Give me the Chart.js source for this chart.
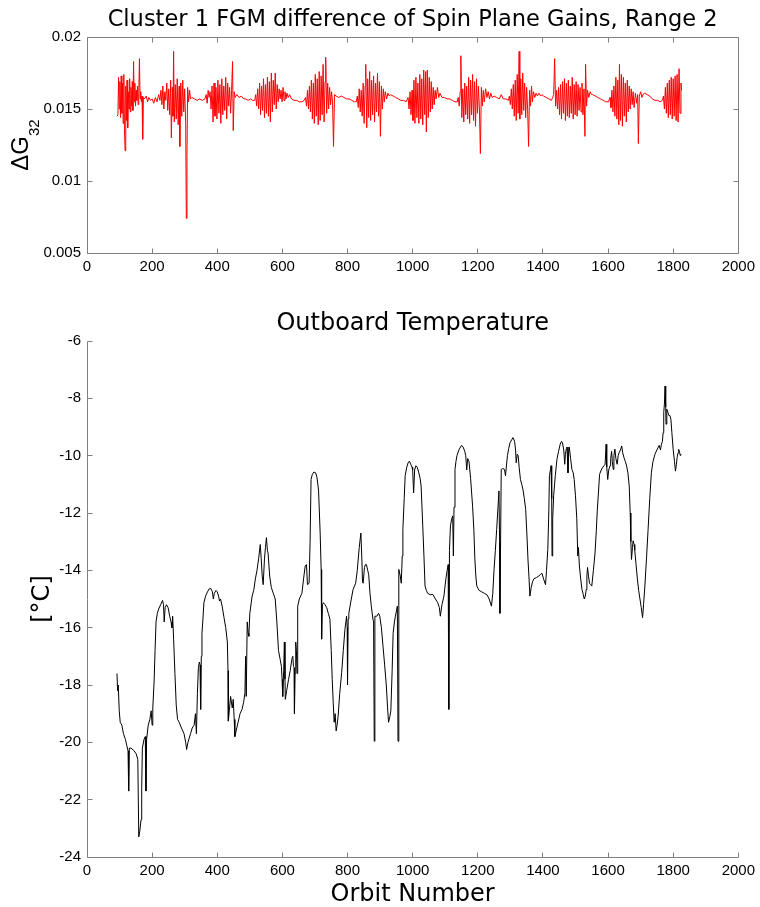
<!DOCTYPE html>
<html>
<head>
<meta charset="utf-8">
<script src="https://cdn.jsdelivr.net/npm/chart.js@4.4.1/dist/chart.umd.min.js"></script>
<style>
  html, body { margin: 0; padding: 0; background: #fff; }
  #wrap { position: relative; width: 760px; height: 907px; }
  canvas { position: absolute; left: 0; }
  #gainChart { top: 0; }
  #tempChart { top: 290px; }
</style>
</head>
<body>
<div id="wrap">
  <canvas id="gainChart" width="760" height="290"></canvas>
  <canvas id="tempChart" width="760" height="617"></canvas>
</div>
<script>
// Tick values
const orbitTicks = [0, 200, 400, 600, 800, 1000, 1200, 1400, 1600, 1800, 2000];
const gainTicks = [0.005, 0.01, 0.015, 0.02];
const tempTicks = [-24, -22, -20, -18, -16, -14, -12, -10, -8, -6];

// Spin plane gain difference, [orbit, dG32]
const gainData = [
  [92, 0.0145], [95, 0.0146], [97, 0.0172], [99, 0.0150], [101, 0.0169], [103, 0.0144], [105, 0.0173], [107, 0.0147],
  [109, 0.0168], [111, 0.0140], [113, 0.0174], [115, 0.0136], [117, 0.0121], [119, 0.0166], [121, 0.0142], [123, 0.0170],
  [125, 0.0137], [127, 0.0162], [129, 0.0150], [131, 0.0171], [133, 0.0148], [135, 0.0165], [137, 0.0152], [139, 0.0169],
  [141, 0.0149], [143, 0.0183], [145, 0.0155], [147, 0.0168], [149, 0.0152], [151, 0.0163], [153, 0.0156], [155, 0.0166],
  [157, 0.0153], [159, 0.0161], [161, 0.0185], [163, 0.0157], [165, 0.0162], [167, 0.0155], [169, 0.0159], [171, 0.0129],
  [173, 0.0158], [176, 0.0157], [182, 0.0159], [186, 0.0155], [190, 0.0158], [195, 0.0156], [200, 0.0157], [205, 0.0154],
  [210, 0.0158], [215, 0.0155], [220, 0.0160], [224, 0.0156],
  [227, 0.0163], [230, 0.0153], [233, 0.0166], [236, 0.0150], [239, 0.0162], [242, 0.0156], [245, 0.0168], [248, 0.0149],
  [251, 0.0164], [254, 0.0146], [257, 0.0170], [259, 0.0130], [262, 0.0165], [264, 0.0145], [266, 0.0190], [268, 0.0141],
  [271, 0.0167], [274, 0.0143], [277, 0.0171], [280, 0.0139], [283, 0.0166], [285, 0.0124], [288, 0.0168], [291, 0.0145],
  [294, 0.0170], [297, 0.0148], [300, 0.0164], [303, 0.0140], [305, 0.0074], [307, 0.0117], [309, 0.0165], [312, 0.0155],
  [315, 0.0163], [318, 0.0157], [322, 0.0158], [330, 0.0157], [338, 0.0156], [346, 0.0157], [354, 0.0156], [362, 0.0157],
  [366, 0.0160], [369, 0.0154], [372, 0.0163], [375, 0.0158], [378, 0.0162], [381, 0.0150], [384, 0.0166], [387, 0.0141],
  [390, 0.0168], [393, 0.0145], [396, 0.0165], [399, 0.0143], [402, 0.0170], [405, 0.0147], [408, 0.0167], [411, 0.0140],
  [414, 0.0171], [417, 0.0146], [420, 0.0166], [423, 0.0149], [426, 0.0172], [429, 0.0143], [432, 0.0168], [435, 0.0152],
  [438, 0.0165], [441, 0.0147], [444, 0.0163], [447, 0.0183], [449, 0.0135], [452, 0.0162], [455, 0.0158],
  [460, 0.0160], [467, 0.0158], [474, 0.0159], [481, 0.0157], [488, 0.0157], [495, 0.0156], [502, 0.0157], [509, 0.0156],
  [515, 0.0156], [518, 0.0160], [521, 0.0152], [524, 0.0164], [527, 0.0150], [530, 0.0168], [533, 0.0146], [536, 0.0166],
  [539, 0.0149], [542, 0.0171], [545, 0.0144], [548, 0.0167], [551, 0.0147], [554, 0.0172], [557, 0.0145], [560, 0.0169],
  [563, 0.0141], [566, 0.0175], [569, 0.0148], [572, 0.0170], [575, 0.0153], [578, 0.0175], [581, 0.0150], [584, 0.0167],
  [587, 0.0155], [590, 0.0164], [593, 0.0157], [596, 0.0163], [599, 0.0155], [602, 0.0165], [605, 0.0156], [608, 0.0162],
  [611, 0.0157], [614, 0.0161], [618, 0.0158], [622, 0.0160], [628, 0.0157], [636, 0.0156], [644, 0.0156], [652, 0.0155],
  [660, 0.0155], [667, 0.0156],
  [671, 0.0158], [674, 0.0152], [677, 0.0163], [680, 0.0150], [683, 0.0166], [686, 0.0148], [689, 0.0170], [692, 0.0143],
  [695, 0.0168], [698, 0.0140], [701, 0.0174], [704, 0.0145], [707, 0.0171], [710, 0.0139], [713, 0.0176], [716, 0.0142],
  [719, 0.0173], [722, 0.0146], [725, 0.0181], [728, 0.0141], [731, 0.0169], [733, 0.0186], [736, 0.0147], [739, 0.0168],
  [742, 0.0150], [745, 0.0165], [748, 0.0153], [751, 0.0162], [754, 0.0155], [757, 0.0124], [760, 0.0160],
  [765, 0.0159], [773, 0.0158], [781, 0.0159], [789, 0.0158], [797, 0.0157], [805, 0.0157], [813, 0.0156], [821, 0.0155],
  [827, 0.0155], [830, 0.0159], [833, 0.0151], [836, 0.0164], [839, 0.0148], [842, 0.0163], [845, 0.0145], [848, 0.0168],
  [851, 0.0140], [854, 0.0166], [856, 0.0181], [859, 0.0137], [862, 0.0171], [865, 0.0144], [868, 0.0176], [871, 0.0142],
  [874, 0.0170], [877, 0.0146], [880, 0.0173], [883, 0.0141], [886, 0.0168], [889, 0.0148], [892, 0.0175], [895, 0.0145],
  [898, 0.0169], [901, 0.0131], [904, 0.0166], [907, 0.0150], [910, 0.0164], [913, 0.0155], [916, 0.0162], [920, 0.0157],
  [924, 0.0161], [928, 0.0159], [932, 0.0160], [940, 0.0159], [948, 0.0158], [956, 0.0157], [964, 0.0156], [972, 0.0156],
  [980, 0.0155],
  [986, 0.0158], [989, 0.0150], [992, 0.0162], [995, 0.0146], [998, 0.0163], [1001, 0.0142], [1004, 0.0170], [1007, 0.0140],
  [1010, 0.0172], [1013, 0.0144], [1016, 0.0168], [1019, 0.0140], [1022, 0.0174], [1025, 0.0143], [1028, 0.0171], [1031, 0.0139],
  [1034, 0.0177], [1037, 0.0146], [1040, 0.0176], [1042, 0.0134], [1045, 0.0177], [1048, 0.0144], [1051, 0.0172], [1054, 0.0148],
  [1057, 0.0169], [1060, 0.0150], [1063, 0.0165], [1066, 0.0153], [1069, 0.0163], [1072, 0.0157], [1076, 0.0165], [1080, 0.0158],
  [1084, 0.0161], [1090, 0.0158], [1098, 0.0158], [1106, 0.0157], [1114, 0.0157], [1122, 0.0156], [1130, 0.0155], [1137, 0.0155],
  [1140, 0.0158], [1143, 0.0152], [1146, 0.0162], [1148, 0.0187], [1151, 0.0144], [1154, 0.0164], [1157, 0.0141], [1160, 0.0168],
  [1163, 0.0146], [1166, 0.0166], [1169, 0.0143], [1172, 0.0172], [1175, 0.0140], [1178, 0.0170], [1181, 0.0146], [1184, 0.0174],
  [1187, 0.0142], [1190, 0.0169], [1193, 0.0138], [1196, 0.0171], [1199, 0.0147], [1202, 0.0166], [1205, 0.0150], [1208, 0.0119],
  [1211, 0.0165], [1214, 0.0152], [1217, 0.0163], [1220, 0.0155], [1224, 0.0164], [1228, 0.0158], [1232, 0.0162], [1236, 0.0157],
  [1240, 0.0161], [1244, 0.0158], [1250, 0.0159], [1258, 0.0158], [1266, 0.0157], [1272, 0.0160], [1278, 0.0157], [1286, 0.0157],
  [1294, 0.0156],
  [1297, 0.0159], [1300, 0.0153], [1303, 0.0164], [1306, 0.0150], [1309, 0.0167], [1312, 0.0145], [1315, 0.0170], [1318, 0.0142],
  [1321, 0.0174], [1324, 0.0147], [1327, 0.0190], [1329, 0.0143], [1332, 0.0171], [1335, 0.0146], [1338, 0.0175], [1341, 0.0149],
  [1344, 0.0168], [1347, 0.0144], [1350, 0.0165], [1353, 0.0150], [1356, 0.0124], [1359, 0.0163], [1362, 0.0152], [1365, 0.0166],
  [1368, 0.0155], [1371, 0.0162], [1375, 0.0158], [1379, 0.0161], [1383, 0.0159], [1388, 0.0161], [1393, 0.0159], [1397, 0.0160],
  [1402, 0.0159], [1410, 0.0158], [1418, 0.0157], [1426, 0.0156],
  [1430, 0.0158], [1433, 0.0160], [1436, 0.0185], [1439, 0.0152], [1442, 0.0163], [1445, 0.0150], [1448, 0.0165], [1451, 0.0146],
  [1454, 0.0167], [1457, 0.0143], [1460, 0.0169], [1463, 0.0147], [1466, 0.0171], [1469, 0.0142], [1472, 0.0168], [1475, 0.0145],
  [1478, 0.0170], [1481, 0.0144], [1484, 0.0166], [1487, 0.0147], [1490, 0.0172], [1493, 0.0143], [1496, 0.0167], [1499, 0.0146],
  [1502, 0.0169], [1505, 0.0145], [1508, 0.0167], [1511, 0.0149], [1514, 0.0165], [1517, 0.0148], [1520, 0.0168], [1523, 0.0146],
  [1526, 0.0164], [1529, 0.0131], [1531, 0.0181], [1534, 0.0152], [1537, 0.0163], [1541, 0.0158], [1545, 0.0162], [1549, 0.0160],
  [1553, 0.0160], [1561, 0.0159], [1569, 0.0158], [1577, 0.0157], [1585, 0.0156], [1593, 0.0155], [1601, 0.0155],
  [1606, 0.0158], [1609, 0.0151], [1612, 0.0163], [1615, 0.0148], [1618, 0.0166], [1621, 0.0145], [1624, 0.0172], [1627, 0.0143],
  [1630, 0.0170], [1633, 0.0139], [1635, 0.0181], [1638, 0.0142], [1641, 0.0174], [1644, 0.0138], [1647, 0.0172], [1650, 0.0145],
  [1653, 0.0168], [1656, 0.0141], [1659, 0.0170], [1662, 0.0148], [1665, 0.0166], [1668, 0.0150], [1671, 0.0164], [1674, 0.0153],
  [1677, 0.0162], [1680, 0.0151], [1684, 0.0161], [1688, 0.0154], [1691, 0.0160], [1693, 0.0126], [1696, 0.0159], [1700, 0.0162],
  [1704, 0.0158], [1707, 0.0160], [1712, 0.0161], [1720, 0.0160], [1728, 0.0159], [1736, 0.0157], [1744, 0.0156], [1752, 0.0156],
  [1760, 0.0155], [1767, 0.0156],
  [1770, 0.0159], [1773, 0.0150], [1776, 0.0165], [1779, 0.0147], [1782, 0.0168], [1785, 0.0144], [1788, 0.0170], [1791, 0.0146],
  [1794, 0.0172], [1797, 0.0143], [1800, 0.0171], [1803, 0.0145], [1806, 0.0173], [1809, 0.0142], [1812, 0.0174], [1815, 0.0141],
  [1818, 0.0178], [1821, 0.0147], [1824, 0.0168], [1826, 0.0163]
];

// Outboard temperature, [orbit, degC]
const tempData = [
  [92, -17.6], [94, -18.2], [96, -18.0], [99, -18.9], [102, -19.3], [107, -19.4], [112, -19.7], [118, -19.9],
  [122, -20.1], [126, -20.3], [128, -21.7], [130, -20.2], [135, -20.2], [145, -20.3], [151, -20.4], [156, -20.6],
  [159, -23.3], [162, -23.1], [166, -22.7], [168, -21.6], [170, -20.2], [175, -19.9], [179, -19.8], [181, -21.7],
  [183, -19.9], [188, -19.4], [193, -19.2], [197, -18.9], [200, -19.4], [202, -18.8], [206, -17.9], [209, -16.8],
  [212, -15.8], [216, -15.5], [220, -15.35], [226, -15.2], [232, -15.05], [235, -15.2], [237, -15.8], [240, -15.3],
  [244, -15.2], [249, -15.3], [254, -15.6], [258, -15.8], [261, -16.0], [263, -15.6], [266, -16.4], [270, -17.6],
  [274, -18.7], [278, -19.2], [283, -19.3], [290, -19.5], [298, -19.7], [303, -20.0], [306, -20.25], [310, -20.0],
  [318, -19.7], [323, -19.5], [329, -19.4], [333, -19.0], [336, -19.7], [339, -18.3], [342, -17.4], [345, -17.2],
  [347, -17.3], [349, -18.85], [351, -17.0], [353, -16.2], [356, -15.7], [359, -15.13], [364, -14.9], [370, -14.75],
  [375, -14.65], [380, -14.63], [385, -14.75], [388, -15.0], [391, -14.8], [396, -14.7], [400, -14.75], [404, -14.9],
  [407, -15.07], [410, -15.0], [415, -15.25], [420, -15.6], [426, -16.0], [431, -16.5], [433, -17.5], [434, -19.26],
  [437, -18.9], [441, -18.4], [446, -18.8], [449, -18.5], [452, -19.2], [454, -19.8], [458, -19.6], [464, -19.3],
  [470, -19.0], [476, -18.85], [481, -18.6], [485, -18.27], [487, -17.0], [489, -18.4], [492, -15.8], [495, -16.2],
  [497, -16.3], [500, -15.5], [507, -14.9], [512, -14.7], [517, -14.3], [522, -14.0], [527, -13.6], [532, -13.1],
  [535, -13.6], [538, -14.2], [541, -14.5], [545, -13.6], [548, -13.2], [551, -12.86], [554, -13.3], [556, -13.4],
  [561, -14.2], [566, -14.6], [572, -14.8], [578, -15.0], [583, -15.8], [588, -16.8], [593, -17.1], [597, -17.35],
  [599, -17.8], [601, -18.4], [604, -17.5], [606, -16.5], [608, -17.8], [609, -18.5], [613, -18.2], [619, -17.8],
  [624, -17.5], [629, -17.1], [632, -17.0], [634, -17.35], [636, -17.4], [637, -19.0], [639, -17.6], [641, -16.5],
  [643, -16.8], [645, -17.6], [647, -15.25], [652, -15.0], [660, -14.8], [665, -14.3], [670, -13.85], [674, -13.8],
  [677, -14.5], [682, -14.45], [685, -13.04], [688, -10.83], [692, -10.65], [697, -10.57], [702, -10.6], [706, -10.75],
  [711, -11.2], [716, -12.7], [719, -13.97], [720, -15.2], [721, -16.4], [723, -15.2], [726, -15.13], [731, -15.2],
  [736, -15.3], [741, -15.5], [746, -15.7], [750, -16.8], [753, -17.8], [756, -18.6], [759, -19.3], [762, -19.0],
  [765, -19.6], [768, -19.4], [771, -19.1], [776, -18.3], [782, -17.57], [787, -16.8], [792, -16.06], [795, -15.8],
  [797, -15.6], [799, -16.0], [800, -18.0], [802, -15.7], [804, -15.5], [810, -15.1], [817, -14.67], [825, -14.45],
  [830, -14.0], [836, -13.2], [841, -12.7], [844, -13.6], [846, -14.4], [848, -14.45], [852, -13.9], [855, -13.8],
  [858, -13.8], [862, -14.0], [865, -14.15], [869, -14.8], [873, -15.25], [878, -15.7], [880, -15.8], [882, -19.96],
  [884, -15.6], [890, -15.6], [895, -15.5], [899, -15.6], [904, -16.0], [909, -16.65], [914, -17.3], [919, -18.0],
  [923, -18.8], [926, -19.3], [930, -19.1], [933, -18.9], [937, -17.5], [940, -16.2], [944, -15.8], [947, -15.6],
  [953, -15.25], [955, -19.96], [957, -15.5], [958, -13.97], [962, -14.2], [965, -14.45], [968, -13.5], [970, -12.57],
  [974, -11.5], [977, -10.7], [982, -10.4], [986, -10.25], [990, -10.19], [994, -10.3], [998, -10.4], [1000, -10.5],
  [1003, -11.3], [1006, -10.5], [1010, -10.35], [1014, -10.4], [1019, -10.6], [1023, -10.8], [1026, -11.06], [1031, -12.45],
  [1035, -13.6], [1038, -14.55], [1042, -14.7], [1046, -14.8], [1054, -14.85], [1062, -14.84], [1070, -15.0], [1077, -15.13],
  [1082, -15.3], [1085, -15.6], [1090, -15.2], [1096, -14.9], [1102, -14.3], [1106, -14.0], [1109, -13.8], [1111, -18.85],
  [1113, -13.3], [1116, -12.45], [1120, -12.2], [1123, -12.1], [1125, -13.5], [1127, -11.8], [1130, -10.48], [1133, -10.2],
  [1136, -10.0], [1142, -9.8], [1150, -9.64], [1155, -9.7], [1160, -9.85], [1163, -10.0], [1166, -10.5], [1169, -10.1],
  [1173, -10.2], [1178, -10.8], [1184, -11.76], [1188, -12.6], [1191, -13.6], [1194, -14.2], [1197, -14.55], [1204, -14.7],
  [1212, -14.75], [1220, -14.8], [1228, -14.85], [1235, -15.0], [1242, -15.25], [1246, -14.8], [1250, -13.97], [1254, -13.3],
  [1258, -12.57], [1262, -11.8], [1265, -11.23], [1267, -13.0], [1268, -15.5], [1270, -13.04], [1272, -10.48], [1277, -10.45],
  [1282, -10.48], [1285, -10.7], [1291, -10.0], [1295, -9.75], [1299, -9.55], [1304, -9.45], [1308, -9.37], [1313, -9.5],
  [1316, -9.8], [1318, -10.25], [1321, -9.95], [1324, -10.0], [1327, -10.4], [1331, -10.83], [1335, -11.0], [1339, -11.2],
  [1343, -11.5], [1347, -11.87], [1351, -12.8], [1354, -13.6], [1357, -14.2], [1360, -14.9], [1364, -14.6], [1368, -14.4],
  [1372, -14.3], [1380, -14.25], [1387, -14.2], [1392, -14.15], [1397, -14.1], [1402, -14.3], [1408, -14.5], [1411, -14.0],
  [1415, -13.27], [1418, -12.0], [1420, -10.7], [1423, -10.5], [1425, -10.35], [1427, -11.5], [1428, -13.5], [1430, -12.2],
  [1433, -11.4], [1438, -10.7], [1443, -10.13], [1448, -9.85], [1453, -9.6], [1457, -9.5], [1460, -9.55], [1464, -9.8],
  [1467, -10.3], [1469, -9.95], [1472, -9.75], [1474, -9.7], [1477, -10.6], [1479, -9.9], [1481, -9.7], [1485, -10.1],
  [1489, -10.48], [1493, -10.6], [1496, -10.83], [1500, -11.4], [1504, -12.2], [1507, -13.5], [1509, -13.2], [1512, -13.85],
  [1516, -14.3], [1520, -14.67], [1524, -14.85], [1527, -15.0], [1530, -14.9], [1533, -14.67], [1535, -14.2], [1537, -13.9],
  [1540, -14.2], [1543, -14.45], [1547, -14.5], [1550, -14.55], [1555, -14.0], [1560, -13.4], [1564, -12.6], [1567, -11.9],
  [1571, -11.2], [1574, -10.65], [1579, -10.5], [1584, -10.4], [1588, -10.35], [1591, -10.3], [1594, -9.6], [1596, -10.4],
  [1599, -10.83], [1602, -10.5], [1606, -10.35], [1608, -10.1], [1611, -9.85], [1613, -10.2], [1616, -10.48], [1618, -10.0],
  [1621, -9.77], [1624, -10.1], [1628, -10.3], [1631, -10.0], [1634, -9.9], [1638, -9.8], [1642, -9.66], [1645, -9.9],
  [1649, -10.07], [1653, -10.2], [1657, -10.36], [1661, -10.6], [1665, -11.06], [1668, -12.0], [1670, -13.0], [1672, -13.62],
  [1675, -13.2], [1677, -12.97], [1680, -13.1], [1682, -13.3], [1686, -13.8], [1690, -14.3], [1694, -14.7], [1698, -15.0],
  [1702, -15.3], [1706, -15.65], [1709, -15.2], [1713, -14.55], [1718, -13.6], [1723, -12.57], [1728, -11.5], [1733, -10.6],
  [1738, -10.2], [1744, -9.95], [1750, -9.8], [1757, -9.64], [1761, -9.8], [1764, -9.6], [1767, -9.5], [1769, -9.2],
  [1771, -8.5], [1773, -8.2], [1775, -7.57], [1777, -8.3], [1778, -8.9], [1780, -8.5], [1781, -8.38], [1784, -8.5],
  [1787, -8.6], [1790, -8.6], [1793, -8.73], [1796, -9.2], [1800, -9.78], [1804, -10.2], [1807, -10.54], [1810, -10.3],
  [1812, -10.07], [1815, -9.9], [1817, -9.78], [1820, -9.9], [1822, -10.0], [1825, -9.95]
];

const AXIS_COLOR = '#808080';
const TICK_LEN = 5;
const tickFont = { family: 'Liberation Sans', size: 15, lineHeight: 1.2 };

// MATLAB style frame: axis lines plus inward tick marks
const matlabAxes = {
    id: 'matlabAxes',
    afterDatasetsDraw(chart, args, opts) {
        const { ctx, chartArea: a, scales: { x, y } } = chart;
        const L = Math.floor(a.left) + 0.5, R = Math.floor(a.right) + 0.5;
        const T = Math.floor(a.top) + 0.5, B = Math.floor(a.bottom) + 0.5;
        ctx.save();
        ctx.strokeStyle = AXIS_COLOR;
        ctx.lineWidth = 1;
        ctx.beginPath();
        if (opts.box) {
            ctx.rect(L, T, R - L, B - T);
        } else {
            ctx.moveTo(L, T);
            ctx.lineTo(L, B);
            ctx.lineTo(R, B);
        }
        x.ticks.forEach(t => {
            const px = Math.floor(x.getPixelForValue(t.value)) + 0.5;
            ctx.moveTo(px, B);
            ctx.lineTo(px, B - TICK_LEN);
            if (opts.box) {
                ctx.moveTo(px, T);
                ctx.lineTo(px, T + TICK_LEN);
            }
        });
        y.ticks.forEach(t => {
            const py = Math.floor(y.getPixelForValue(t.value)) + 0.5;
            ctx.moveTo(L, py);
            ctx.lineTo(L + TICK_LEN, py);
            if (opts.box) {
                ctx.moveTo(R, py);
                ctx.lineTo(R - TICK_LEN, py);
            }
        });
        ctx.stroke();
        ctx.restore();
    }
};

// y label with a subscript, which the axis title can't do
const gainLabel = {
    id: 'gainLabel',
    afterDraw(chart) {
        const { ctx, chartArea: a } = chart;
        ctx.save();
        ctx.fillStyle = '#000';
        ctx.textBaseline = 'alphabetic';
        ctx.font = '24px "Liberation Sans"';
        const w1 = ctx.measureText('\u0394G').width;
        ctx.font = '15px "Liberation Sans"';
        const w2 = ctx.measureText('32').width;
        const cy = (a.top + a.bottom) / 2;
        ctx.translate(27.5, cy + (w1 + w2) / 2);
        ctx.rotate(-Math.PI / 2);
        ctx.font = '24px "Liberation Sans"';
        ctx.fillText('\u0394G', 0, 0);
        ctx.font = '15px "Liberation Sans"';
        ctx.fillText('32', w1, 11);
        ctx.restore();
    }
};

function orbitAxis(height, title) {
    return {
        type: 'linear', min: 0, max: 2000,
        grid: { display: false, drawTicks: false },
        border: { display: false },
        afterBuildTicks: s => { s.ticks = orbitTicks.map(v => ({ value: v })); },
        afterFit: s => { s.height = height; },
        ticks: { padding: 5, color: '#000', font: tickFont, maxRotation: 0, autoSkip: false, callback: v => String(v) },
        title: title
    };
}

function valueAxis(tickList, min, max, title) {
    return {
        type: 'linear', min: min, max: max,
        grid: { display: false, drawTicks: false },
        border: { display: false },
        afterBuildTicks: s => { s.ticks = tickList.map(v => ({ value: v })); },
        afterFit: s => { s.width = 87; },
        ticks: { padding: 6, color: '#000', font: tickFont, autoSkip: false, callback: v => String(v) },
        title: title
    };
}

new Chart(document.getElementById('gainChart'), {
    type: 'line',
    data: {
        datasets: [{
            data: gainData,
            borderColor: '#ff0000',
            borderWidth: 1,
            borderJoinStyle: 'bevel',
            pointRadius: 0,
            tension: 0,
            fill: false
        }]
    },
    options: {
        responsive: false,
        animation: false,
        devicePixelRatio: 1,
        layout: { padding: { right: 18, left: 0, top: 0, bottom: 0 } },
        plugins: {
            legend: { display: false },
            tooltip: { enabled: false },
            title: {
                display: true,
                text: 'Cluster 1 FGM difference of Spin Plane Gains, Range 2',
                fullSize: false,
                color: '#000',
                font: { family: 'DejaVu Sans', size: 22.5, weight: 'normal', lineHeight: 1.2 },
                padding: { top: 6.5, bottom: 3.5 }
            },
            matlabAxes: { box: true }
        },
        scales: {
            x: orbitAxis(37, { display: false }),
            y: valueAxis(gainTicks, 0.005, 0.02, { display: false })
        }
    },
    plugins: [matlabAxes, gainLabel]
});

new Chart(document.getElementById('tempChart'), {
    type: 'line',
    data: {
        datasets: [{
            data: tempData,
            borderColor: '#000000',
            borderWidth: 1,
            borderJoinStyle: 'bevel',
            pointRadius: 0,
            tension: 0,
            fill: false
        }]
    },
    options: {
        responsive: false,
        animation: false,
        devicePixelRatio: 1,
        layout: { padding: { right: 18, left: 0, top: 0, bottom: 0 } },
        plugins: {
            legend: { display: false },
            tooltip: { enabled: false },
            title: {
                display: true,
                text: 'Outboard Temperature',
                fullSize: false,
                color: '#000',
                font: { family: 'DejaVu Sans', size: 24, weight: 'normal', lineHeight: 1.2 },
                padding: { top: 19.1, bottom: 3.1 }
            },
            matlabAxes: { box: false }
        },
        scales: {
            x: orbitAxis(50, {
                display: true, text: 'Orbit Number', color: '#000',
                font: { family: 'DejaVu Sans', size: 24, lineHeight: 1 },
                padding: { top: 0, bottom: 0.5 }
            }),
            y: valueAxis(tempTicks, -24, -6, {
                display: true, text: '[\u00B0C]', color: '#000',
                font: { family: 'DejaVu Sans', size: 24, lineHeight: 1 },
                padding: { top: 30.5, bottom: 0 }
            })
        }
    },
    plugins: [matlabAxes]
});
</script>
</body>
</html>
